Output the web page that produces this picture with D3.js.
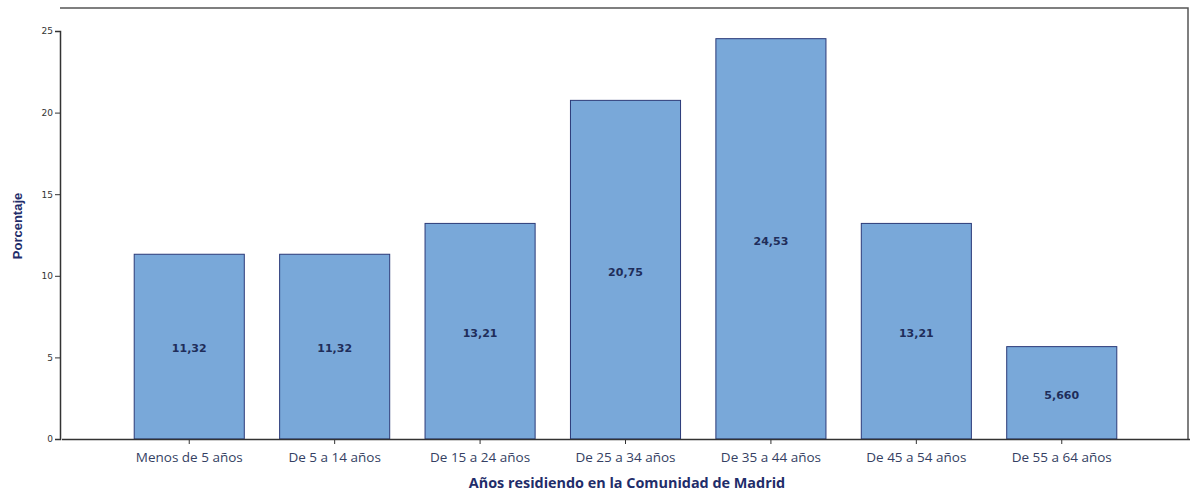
<!DOCTYPE html>
<html><head><meta charset="utf-8">
<script src="https://cdn.jsdelivr.net/npm/d3@7"></script>
<style>
html,body{margin:0;padding:0;background:#fff;}
svg{display:block;}
</style></head>
<body>
<svg id="chart" width="1191" height="494"></svg>
<script>
const categories = ["Menos de 5 años","De 5 a 14 años","De 15 a 24 años","De 25 a 34 años","De 35 a 44 años","De 45 a 54 años","De 55 a 64 años"];
const values = [11.32, 11.32, 13.21, 20.75, 24.53, 13.21, 5.660];
const valueLabels = ["11,32","11,32","13,21","20,75","24,53","13,21","5,660"];
const yTicks = [0, 5, 10, 15, 20, 25];
const xTitle = "Años residiendo en la Comunidad de Madrid";
const yTitle = "Porcentaje";

(function(){
const svg = d3.select("#chart");
const mLeft = 60, mRight = 1188, mTop = 8, mBottom = 439;

const x = d3.scaleBand().domain(categories).range([mLeft + 1.5, mRight + 1.5]).paddingInner(0.243).paddingOuter(0.5);
const y = d3.scaleLinear().domain([0, 25]).range([mBottom, mBottom - 408]);

// frame
svg.append("path")
  .attr("d", `M${mLeft},${mTop}H${mRight}V${mBottom}`)
  .attr("fill","none").attr("stroke","#555").attr("stroke-width",1.5);

// bars
svg.selectAll("rect.bar").data(values).join("rect")
  .attr("class","bar")
  .attr("x",(d,i)=>x(categories[i]))
  .attr("y",d=>y(d))
  .attr("width",x.bandwidth())
  .attr("height",d=>y(0)-y(d))
  .attr("fill","#79a8d9")
  .attr("stroke","#2b3a78")
  .attr("stroke-width",1);

// value labels
svg.selectAll("text.val").data(values).join("text")
  .attr("class","val")
  .attr("x",(d,i)=>x(categories[i])+x.bandwidth()/2)
  .attr("y",d=>(y(d)+y(0))/2 + 2)
  .attr("dy","0.35em")
  .attr("text-anchor","middle")
  .attr("font-family","'DejaVu Sans', sans-serif")
  .attr("font-weight","bold")
  .attr("font-size","11px")
  .attr("fill","#1f2d5a")
  .text((d,i)=>valueLabels[i]);

// y axis
const yAxis = svg.append("g").attr("transform",`translate(${mLeft},0)`)
  .call(d3.axisLeft(y).tickValues(yTicks).tickSize(5).tickPadding(2).tickFormat(d3.format("d")));
yAxis.select(".domain").attr("stroke","#333").attr("stroke-width",1.5);
yAxis.selectAll(".tick line").attr("stroke","#333");
yAxis.selectAll(".tick text").attr("font-family","'DejaVu Sans', sans-serif").attr("font-size","9px").attr("fill","#333");

// x axis
const xAxis = svg.append("g").attr("transform",`translate(0,${mBottom})`)
  .call(d3.axisBottom(x).tickSize(5).tickPadding(8).tickSizeOuter(0));
xAxis.select(".domain").attr("stroke","#333").attr("stroke-width",1.5);
xAxis.selectAll(".tick line").attr("stroke","#333");
xAxis.selectAll(".tick text").attr("font-family","'Open Sans', sans-serif").attr("font-size","13.5px").attr("fill","#353f63");

// titles
svg.append("text").attr("x",627).attr("y",488)
  .attr("text-anchor","middle").attr("font-family","'Open Sans', sans-serif")
  .attr("font-weight","bold").attr("font-size","14.4px").attr("fill","#1f2d6a").text(xTitle);
svg.append("text").attr("transform","translate(22,226) rotate(-90)")
  .attr("text-anchor","middle").attr("font-family","'Liberation Sans', sans-serif")
  .attr("font-weight","bold").attr("font-size","13px").attr("fill","#1f2d6a").text(yTitle);
})();
</script>
</body></html>
